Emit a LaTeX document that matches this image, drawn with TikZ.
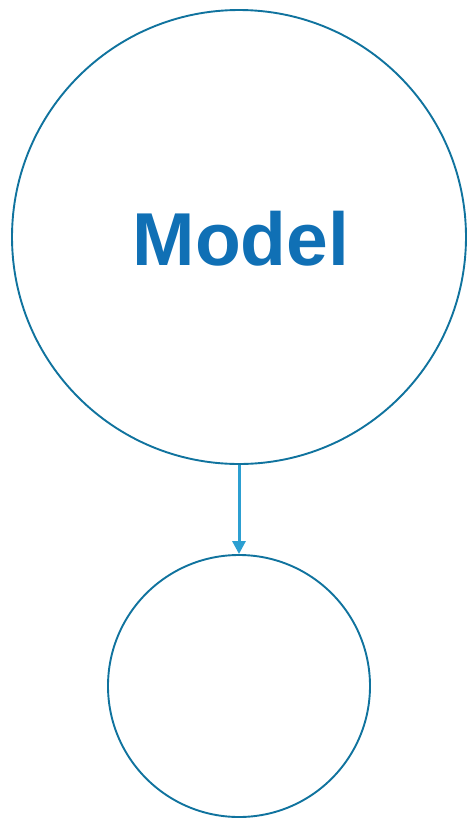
\documentclass[tikz,border=0pt]{standalone}
\usepackage{fontspec}
\setmainfont{Liberation Sans}
\usetikzlibrary{arrows.meta}
\definecolor{ringblue}{HTML}{10739E}
\definecolor{textblue}{HTML}{1070B5}
\definecolor{arrowblue}{HTML}{2C9FD1}
\tikzset{
  ring/.style={circle, draw=ringblue, line width=1.9pt, inner sep=0pt},
  title/.style={textblue, font=\fontsize{75}{80}\selectfont\bfseries},
  arrow/.style={-{Triangle[length=13pt, width=13pt]}, draw=arrowblue, fill=arrowblue, line width=3pt}
}

\begin{document}
\begin{tikzpicture}[x=1pt, y=-1pt]
  \useasboundingbox (0,0) rectangle (468,820);
  \node[ring, minimum size=454pt] (model) at (239,237) {};
  \node[title] (label) at (241,239) {Model};
  \node[ring, minimum size=262pt] (output) at (239,686) {};
  \draw[arrow] (model.south) -- (output.north);
\end{tikzpicture}
\end{document}
